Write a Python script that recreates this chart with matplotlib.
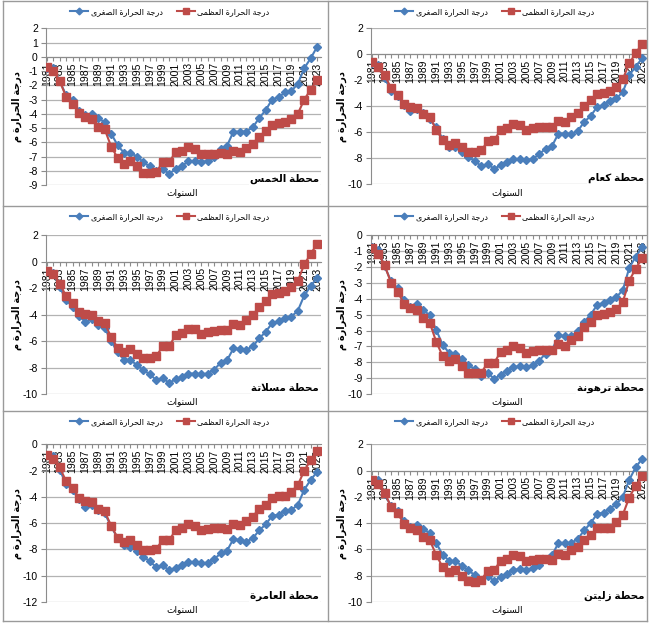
import matplotlib
matplotlib.use('Agg')
import matplotlib.pyplot as plt
from matplotlib.lines import Line2D

plt.rcParams['font.family'] = ['Liberation Sans', 'DejaVu Sans']
plt.rcParams['axes.unicode_minus'] = False

years = list(range(1981, 2024))

khoms_min = [-0.8, -0.8, -1.7, -2.7, -3.0, -3.8, -4.1, -4.0, -4.3, -4.6, -5.4, -6.2, -6.75, -6.75, -7.0,
             -7.4, -7.7, -8.0, -7.9, -8.2, -7.9, -7.65, -7.35, -7.35, -7.4, -7.3, -7.05, -6.45, -6.25, -5.25,
             -5.25, -5.25, -4.95, -4.3, -3.75, -3.0, -2.85, -2.5, -2.4, -1.9, -0.8, -0.1, 0.7]
khoms_max = [-0.7, -1.0, -1.7, -2.8, -3.3, -3.95, -4.25, -4.4, -4.9, -5.1, -6.3, -7.1, -7.5, -7.3, -7.7,
             -8.15, -8.15, -8.1, -7.4, -7.4, -6.7, -6.6, -6.3, -6.5, -6.85, -6.8, -6.8, -6.75, -6.85, -6.6,
             -6.7, -6.4, -6.1, -5.6, -5.2, -4.8, -4.65, -4.6, -4.4, -4.0, -3.0, -2.3, -1.6]

kaam_min = [-0.7, -0.8, -1.8, -2.8, -3.2, -3.9, -4.4, -4.2, -4.5, -5.0, -5.6, -6.5, -7.1, -7.1, -7.5,
            -7.9, -8.2, -8.6, -8.45, -8.8, -8.55, -8.3, -8.05, -8.05, -8.15, -8.05, -7.7, -7.25, -7.05, -6.1,
            -6.1, -6.15, -5.9, -5.2, -4.75, -4.05, -3.9, -3.6, -3.4, -2.9, -1.6, -0.95, -0.3]
kaam_max = [-0.6, -0.95, -1.6, -2.6, -3.1, -3.8, -4.05, -4.1, -4.6, -4.8, -5.8, -6.6, -7.0, -6.8, -7.1,
            -7.5, -7.5, -7.4, -6.7, -6.6, -5.85, -5.7, -5.4, -5.45, -5.8, -5.7, -5.6, -5.6, -5.6, -5.15,
            -5.2, -4.85, -4.55, -3.95, -3.55, -3.05, -2.95, -2.85, -2.5, -1.9, -0.7, 0.1, 0.8]

msallata_min = [-0.7, -0.85, -1.9, -2.9, -3.4, -4.1, -4.55, -4.35, -4.75, -5.0, -6.0, -6.85, -7.4, -7.45, -7.8,
                -8.2, -8.5, -8.95, -8.8, -9.15, -8.9, -8.7, -8.45, -8.45, -8.5, -8.45, -8.15, -7.65, -7.45, -6.55,
                -6.6, -6.65, -6.4, -5.8, -5.3, -4.65, -4.5, -4.25, -4.15, -3.7, -2.55, -1.85, -1.2]
msallata_max = [-0.7, -0.95, -1.65, -2.6, -3.1, -3.8, -3.95, -4.05, -4.5, -4.65, -5.7, -6.5, -6.85, -6.6, -6.95,
                -7.3, -7.3, -7.15, -6.4, -6.4, -5.55, -5.4, -5.1, -5.1, -5.45, -5.3, -5.2, -5.15, -5.15, -4.7,
                -4.8, -4.4, -4.05, -3.4, -3.0, -2.45, -2.35, -2.2, -1.9, -1.45, -0.2, 0.6, 1.35]

tarhuna_min = [-0.75, -0.95, -1.95, -2.9, -3.35, -4.05, -4.5, -4.35, -4.7, -5.05, -5.95, -6.9, -7.4, -7.45, -7.8,
               -8.15, -8.45, -8.85, -8.65, -9.05, -8.8, -8.55, -8.3, -8.25, -8.3, -8.2, -7.9, -7.45, -7.25, -6.3,
               -6.35, -6.35, -6.05, -5.45, -5.0, -4.4, -4.25, -4.05, -3.9, -3.45, -2.05, -1.35, -0.75]
tarhuna_max = [-0.8, -1.15, -1.9, -3.0, -3.55, -4.3, -4.55, -4.7, -5.2, -5.5, -6.7, -7.6, -7.95, -7.8, -8.25,
               -8.65, -8.7, -8.65, -8.05, -8.05, -7.35, -7.2, -7.0, -7.1, -7.4, -7.3, -7.2, -7.2, -7.25, -6.85,
               -7.0, -6.6, -6.35, -5.8, -5.45, -5.0, -4.95, -4.85, -4.65, -4.2, -2.85, -2.1, -1.45]

amamra_min = [-0.8, -0.9, -1.95, -3.0, -3.5, -4.2, -4.75, -4.6, -5.0, -5.25, -6.25, -7.15, -7.7, -7.8, -8.15,
              -8.55, -8.9, -9.35, -9.2, -9.6, -9.4, -9.2, -8.95, -8.95, -9.05, -9.0, -8.75, -8.3, -8.1, -7.2,
              -7.3, -7.4, -7.15, -6.55, -6.1, -5.45, -5.35, -5.1, -5.0, -4.6, -3.45, -2.7, -2.1]
amamra_max = [-0.8, -1.1, -1.75, -2.8, -3.3, -4.05, -4.3, -4.4, -4.9, -5.1, -6.2, -7.1, -7.45, -7.3, -7.65,
              -8.05, -8.05, -7.95, -7.3, -7.3, -6.55, -6.4, -6.1, -6.2, -6.55, -6.45, -6.4, -6.35, -6.45, -6.05,
              -6.15, -5.8, -5.5, -4.9, -4.6, -4.05, -3.95, -3.9, -3.6, -3.1, -2.0, -1.2, -0.5]

zliten_min = [-0.7, -0.75, -1.8, -2.7, -3.05, -3.8, -4.3, -4.15, -4.45, -4.75, -5.5, -6.4, -6.85, -6.9, -7.25,
              -7.6, -7.95, -8.35, -8.0, -8.4, -8.1, -7.85, -7.55, -7.5, -7.55, -7.45, -7.15, -6.7, -6.45, -5.5,
              -5.5, -5.5, -5.2, -4.55, -4.0, -3.3, -3.2, -2.9, -2.55, -2.0, -0.7, 0.25, 0.9]
zliten_max = [-0.7, -1.0, -1.7, -2.75, -3.25, -4.05, -4.35, -4.5, -5.05, -5.3, -6.4, -7.35, -7.7, -7.6, -8.0,
              -8.4, -8.45, -8.3, -7.65, -7.6, -6.85, -6.7, -6.45, -6.5, -6.85, -6.8, -6.75, -6.75, -6.8, -6.35,
              -6.4, -6.05, -5.8, -5.25, -4.9, -4.4, -4.4, -4.35, -3.9, -3.35, -2.05, -1.15, -0.45]

label_min = 'درجة الحرارة الصغرى'
label_max = 'درجة الحرارة العظمى'
label_y = 'درجة الحرارة م'
label_x = 'السنوات'
stations = ['محطة الخمس', 'محطة كعام', 'محطة مسلاتة', 'محطة ترهونة', 'محطة العامرة', 'محطة زليتن']

# contextual letter forms: isolated, final[, initial, medial]
FORMS = {
    'ا': ('\ufe8d', '\ufe8e'), 'ب': ('\ufe8f', '\ufe90', '\ufe91', '\ufe92'),
    'ة': ('\ufe93', '\ufe94'), 'ت': ('\ufe95', '\ufe96', '\ufe97', '\ufe98'),
    'ج': ('\ufe9d', '\ufe9e', '\ufe9f', '\ufea0'), 'ح': ('\ufea1', '\ufea2', '\ufea3', '\ufea4'),
    'خ': ('\ufea5', '\ufea6', '\ufea7', '\ufea8'), 'د': ('\ufea9', '\ufeaa'),
    'ر': ('\ufead', '\ufeae'), 'ز': ('\ufeaf', '\ufeb0'),
    'س': ('\ufeb1', '\ufeb2', '\ufeb3', '\ufeb4'), 'ص': ('\ufeb9', '\ufeba', '\ufebb', '\ufebc'),
    'ط': ('\ufec1', '\ufec2', '\ufec3', '\ufec4'), 'ظ': ('\ufec5', '\ufec6', '\ufec7', '\ufec8'),
    'ع': ('\ufec9', '\ufeca', '\ufecb', '\ufecc'), 'غ': ('\ufecd', '\ufece', '\ufecf', '\ufed0'),
    'ك': ('\ufed9', '\ufeda', '\ufedb', '\ufedc'), 'ل': ('\ufedd', '\ufede', '\ufedf', '\ufee0'),
    'م': ('\ufee1', '\ufee2', '\ufee3', '\ufee4'), 'ن': ('\ufee5', '\ufee6', '\ufee7', '\ufee8'),
    'ه': ('\ufee9', '\ufeea', '\ufeeb', '\ufeec'), 'و': ('\ufeed', '\ufeee'),
    'ى': ('\ufeef', '\ufef0'), 'ي': ('\ufef1', '\ufef2', '\ufef3', '\ufef4'),
}


def ar(text):
    out = []
    i = 0
    while i < len(text):
        ch = text[i]
        if ch not in FORMS:
            out.append(ch)
            i += 1
            continue
        prev = text[i - 1] if i > 0 else ''
        join_prev = prev in FORMS and len(FORMS[prev]) == 4
        nxt = text[i + 1] if i + 1 < len(text) else ''
        if ch == 'ل' and nxt == 'ا':
            out.append('\ufefc' if join_prev else '\ufefb')
            i += 2
            continue
        f = FORMS[ch]
        join_next = len(f) == 4 and nxt in FORMS
        if join_prev and join_next:
            out.append(f[3])
        elif join_prev:
            out.append(f[1])
        elif join_next:
            out.append(f[2])
        else:
            out.append(f[0])
        i += 1
    return ''.join(reversed(out))


W, H = 649, 624
fig = plt.figure(figsize=(W / 100, H / 100), dpi=100)


def fx(px):
    return px / W


def fy(py):
    return 1 - py / H


series = [(khoms_min, khoms_max), (kaam_min, kaam_max), (msallata_min, msallata_max),
          (tarhuna_min, tarhuna_max), (amamra_min, amamra_max), (zliten_min, zliten_max)]

# cell origin, plot top/bottom (px inside cell), y range, y step
cells = [(0, 0), (325, 0), (0, 205), (325, 205), (0, 410), (325, 410)]
plot_tb = [(28.3, 185), (28.3, 184.3), (30.3, 189), (30.3, 189), (34.3, 192), (34.3, 192)]
yranges = [(-9, 2, 1), (-10, 2, 2), (-10, 2, 2), (-10, 0, 1), (-12, 0, 2), (-10, 2, 2)]

blue = '#4a7ebb'
red = '#be4b48'
grid_c = '#b3b3b3'

for k, ((mn, mx), (cx, cy), (pt, pb), (ylo, yhi, ystep)) in enumerate(zip(series, cells, plot_tb, yranges)):
    left, right = cx + 45.5, cx + 321
    ax = fig.add_axes([fx(left), fy(cy + pb), (right - left) / W, (pb - pt) / H])
    ax.spines['top'].set_visible(False)
    ax.spines['right'].set_visible(False)
    ax.spines['bottom'].set_position(('data', 0))
    ax.spines['bottom'].set_color('#8c8c8c')
    ax.spines['left'].set_color('#8c8c8c')

    yt = list(range(ylo, yhi + 1, ystep))
    for v in yt:
        ax.axhline(v, color=grid_c, lw=0.9, zorder=0.5)
    h_min, = ax.plot(years, mn, color=blue, lw=1.5, marker='D', ms=3.8, zorder=3)
    h_max, = ax.plot(years, mx, color=red, lw=1.5, marker='s', ms=5.2, zorder=4)
    ax.set_xlim(1980.8, 2023.6)
    ax.set_ylim(ylo, yhi)
    ax.set_yticks(yt)
    ax.set_xticks(years)
    ax.set_xticklabels([str(y) if (y - 1981) % 2 == 0 else '' for y in years])
    ax.tick_params(axis='x', direction='out', length=3, width=0.8, color='#8c8c8c',
                   labelsize=7.5, pad=1, labelrotation=90)
    ax.tick_params(axis='y', direction='out', length=3.5, width=0.8, color='#8c8c8c',
                   labelsize=7.5, pad=2)
    ax.patch.set_alpha(0)

    ax.legend([h_min, h_max], [ar(label_min), ar(label_max)], loc='center', ncol=2, frameon=False,
              bbox_to_anchor=(fx(cx + 170), fy(cy + 12)), bbox_transform=fig.transFigure,
              fontsize=5.8, handlelength=2.2, columnspacing=1.8, handletextpad=0.3,
              markerscale=0.9)
    fig.text(fx(cx + 182), fy(cy + pb + 8), ar(label_x), fontsize=6.5, ha='center', va='center')
    fig.text(fx(cx + 17), fy(cy + (pt + pb) / 2), ar(label_y), fontsize=7, fontweight='bold',
             rotation=90, ha='center', va='center')
    fig.text(fx(cx + 319), fy(cy + pb - 6), ar(stations[k]), fontsize=7.5, fontweight='bold',
             ha='right', va='center',
             bbox=dict(facecolor='white', edgecolor='none', pad=0.5))

# table frame around the six panels
frame_c = '#9a9a9a'
for py in [1, 206, 411, 621]:
    fig.add_artist(Line2D([fx(3), fx(647)], [fy(py), fy(py)], color=frame_c, lw=1))
for px in [3, 328, 647]:
    fig.add_artist(Line2D([fx(px), fx(px)], [fy(1), fy(621)], color=frame_c, lw=1))

fig.savefig('out.png', dpi=100)
